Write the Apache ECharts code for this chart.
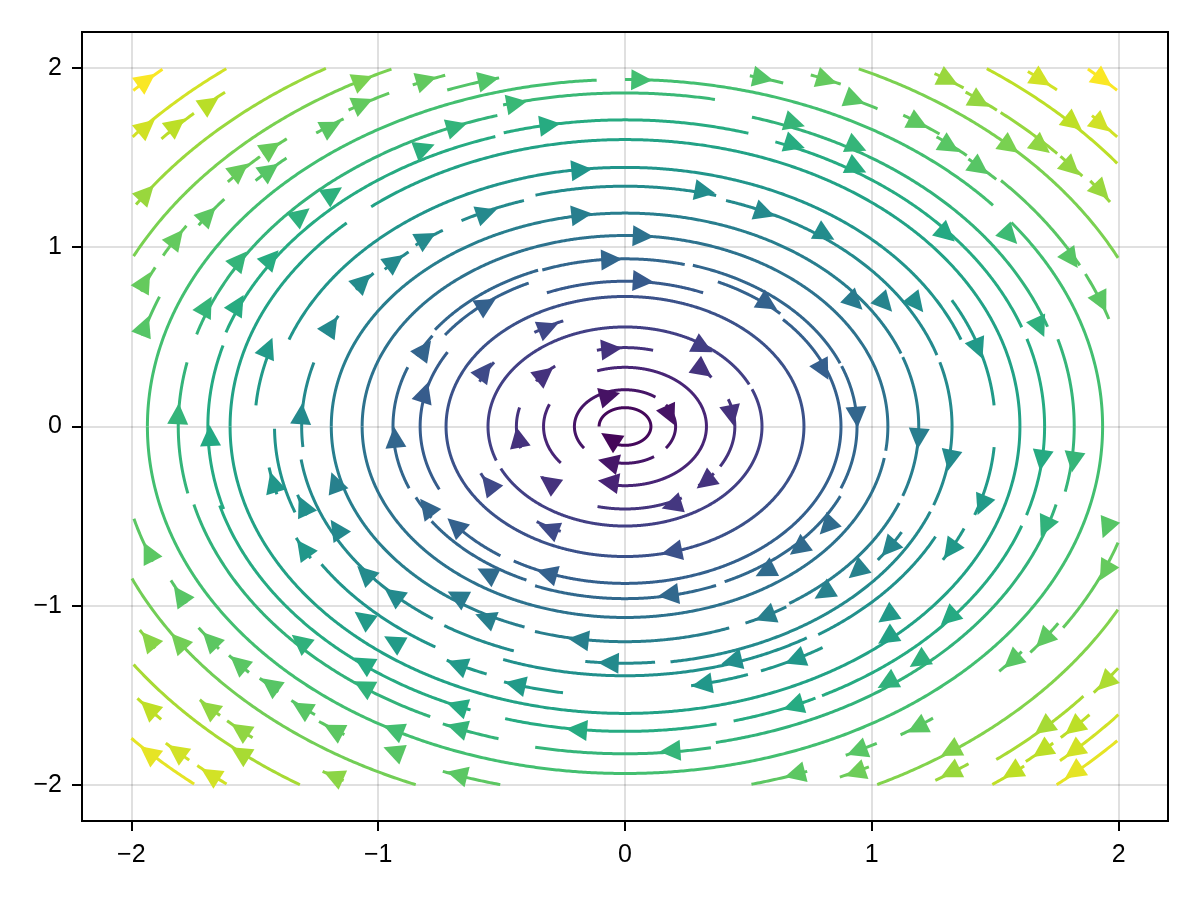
<!DOCTYPE html>
<html>
<head>
<meta charset="utf-8">
<script src="https://cdn.jsdelivr.net/npm/echarts@6/dist/echarts.min.js"></script>
<style>html,body{margin:0;padding:0;background:#fff}#c{width:1200px;height:900px}</style>
</head>
<body>
<div id="c"></div>
<script>
// Tick labels
const xTicks = [-2, -1, 0, 1, 2];
const yTicks = [-2, -1, 0, 1, 2];

// Streamline pieces: [radius, startAngleDeg, endAngleDeg] (flow is clockwise, start -> end)
const segInner = [
  [0.105,180,-125],
  [0.205,216,53],[0.205,36,-36],[0.205,-55,-112],
  [0.33,218,158],[0.33,110,-100],
  [0.44,228,220],[0.44,196,166],[0.44,145,130],[0.44,105,75],[0.445,50,38],[0.445,20,-30],[0.445,-36,-48],[0.46,-60,-104],
  [0.555,200,25],[0.555,22,-155],
  [0.64,125,113],[0.64,157,146],[0.64,214,204],[0.64,246,236],
  [0.725,180,-180],
  [0.89,145,116],[0.81,113,67],[0.89,65,45],[0.875,43,-121],[0.88,-125,-143],[0.83,205,150],
  [0.935,213,205],[0.94,201.5,159.4],[0.93,155,147],[0.94,145,112],[0.935,111,75],[0.94,73,22],[0.94,21,-21.5],
  [0.955,-24,-65],[0.96,-67.4,-112.3],[0.945,-115,-146],
  [1.065,180,-7.3],[1.065,-9.5,-180],
  [1.19,180,20],[1.19,19,-19],[1.19,-21,-56],[1.2,-57,-66],[1.2,-69.4,-107.7],[1.19,-110,-180],
  [1.266,-27.7,-36],
  [1.31,185,164.2],[1.315,157,152],[1.33,145,140],[1.31,138,132],[1.32,130,124],[1.325,120,108],[1.34,105.7,74],
  [1.325,72,17.5],[1.325,15.7,-19.3],[1.325,-21,-82],[1.32,-84.7,-97],[1.33,-109.8,-123.4],[1.325,-126,-172],
  [1.42,199.7,180.5],[1.445,160.4,19.6],[1.40,-26,-56],[1.47,-57,-68],[1.47,-70.2,-79.5],[1.39,-58,-110.8],
  [1.49,-112.1,-119],[1.506,-99.6,-109],[1.45,-122,-148],[1.46,195,189],[1.38,201,196],[1.47,210,205],
  [1.5,175.5,162.7],[1.5,28,4.5],[1.5,-4.4,-19.2],[1.487,-22.5,-30],
  [1.6,180,134.8],[1.6,130,-180],
  [1.69,195.8,164.5],[1.70,162,108],[1.71,106.7,73],[1.70,69,19],[1.70,16.7,-16.9],[1.70,-19,-62],[1.70,-63,-75],
  [1.70,-77.4,-106.6],[1.70,-111.6,-165],
  [1.81,191.9,168.6],[1.81,163.5,106.6],[1.86,105.4,78.7],[1.80,73.4,18],[1.82,15.5,-11.5],[1.80,-14,-78.2],
  [1.825,-79,-101.5],[1.815,-106.4,-114],[1.80,-116,-166],
  [1.935,180,93.4],[1.935,90,39.6],[1.935,36,-180]
];
const segTopLeft = [
  [2.735,140,133],[2.567,141.5,128.5],[2.47,139.5,135],[2.47,134,131],[2.336,148,121],[2.206,154.5,115.4],
  [2.1,153,147.8],[2.06,147,142],[2.11,139.7,134.5],[2.11,134,130.5],[2.03,137.5,132.5],[2.06,127.4,123.6],
  [2.09,122.4,117.2],[2.09,114.3,110.4],[2.01,111,104.7],[2.1,159,155],[2.02,165.5,159],[2.02,75.5,71.5],[2.1,69,65.4]
];
const segTopRight = [
  [2.737,47,43],[2.566,50.5,47],[2.566,42.5,39],[2.476,53.7,36.1],[2.334,57.5,54],[2.32,53.5,49.5],[2.32,49,41],
  [2.32,40.5,37],[2.33,36,32.5],[2.208,64.6,25.2],[2.07,57,52],[2.05,52,47.5],[2.04,47,42.5],[2.05,42,26],[2.05,24.5,17],
  [2.046,64,60]
];
const segBottomLeft = [
  [2.65,228.8,221],[2.565,231,227.5],[2.565,226.5,223.5],[2.49,221,217.5],[2.393,236.6,213.7],[2.30,224.5,221.5],
  [2.30,229,225.5],[2.17,247,203],[2.27,213,210],[2.06,217,213],[2.05,222,218.5],[2.04,226.5,223.5],[2.04,232,228.5],
  [2.06,236.5,233],[2.28,240,237.5],[2.03,209,205],[2.055,201.5,194.5],[2.06,255.8,249]
];
const segBottomRight = [
  [2.655,-41.3,-48.8],[2.565,-38.8,-46.6],[2.475,-40.5,-44.5],[2.475,-45.5,-49],[2.49,-49.5,-53.3],[2.39,-39,-51],
  [2.41,-34,-38],[2.243,-27.1,-62.9],[2.34,-53.5,-57.5],[2.1,-14,-32.3],[2.07,-32,-37.5],[2.04,-38,-42],
  [2.05,-52.5,-57],[2.04,-60,-64],[2.14,-62.5,-66],[2.06,-69,-75.6]
];

// Arrow heads: [x, y]
const arrowsTop = [
  [-1.938,1.932],[-1.938,1.673],[-1.817,1.682],[-1.681,1.803],[-1.061,1.932],[-1.061,1.803],[-0.804,1.932],[-1.189,1.673],
  [-1.432,1.552],[-1.56,1.431],[-1.438,1.431],[-1.938,1.302],[-0.811,1.552],[-1.182,1.302],[-1.688,1.181],[-1.817,1.051],
  [-1.311,1.181],[-0.804,1.051],[-1.56,0.931],[-1.432,0.94],[-0.932,0.922],[-1.061,0.81],[-1.945,0.81],
  [-0.553,1.932],[0.068,1.932],[0.56,1.942],[-0.438,1.803],[-0.681,1.673],[-0.304,1.682],[0.688,1.691],[0.688,1.571],
  [-0.175,1.431],[0.324,1.311],[-0.56,1.191],[-0.175,1.181],[0.567,1.191],[0.074,1.061],[-0.054,0.931],[0.074,0.81],
  [0.818,1.932],[0.932,1.821],[1.311,1.932],[1.688,1.932],[1.938,1.932],[1.438,1.812],[1.189,1.691],[1.817,1.691],
  [1.931,1.682],[0.939,1.561],[1.317,1.561],[1.56,1.561],[1.688,1.561],[0.939,1.441],[1.438,1.441],[1.81,1.441],
  [1.931,1.311],[0.811,1.07],[1.304,1.07],[1.56,1.061],[1.81,0.931]
];
const arrowsMiddle = [
  [-1.945,0.562],[-1.695,0.673],[-1.567,0.683],[-1.445,0.441],[-1.189,0.562],[-0.811,0.432],[-0.811,0.191],[-1.81,0.071],
  [-1.681,-0.05],[-1.311,0.071],[-0.932,-0.06],[-1.425,-0.31],[-1.304,-0.44],[-1.175,-0.31],[-0.804,-0.449],[-1.931,-0.699],
  [-1.304,-0.68],[-1.169,-0.569],
  [-0.56,0.683],[-0.31,0.552],[-0.567,0.312],[-0.324,0.293],[-0.054,0.432],[0.317,0.441],[0.317,0.312],[0.58,0.683],
  [-0.061,0.172],[0.182,0.061],[0.432,0.061],[-0.432,-0.06],[-0.061,-0.068],[-0.068,-0.199],[-0.068,-0.31],[-0.31,-0.31],
  [-0.553,-0.319],[0.324,-0.31],[0.189,-0.44],[-0.31,-0.569],[0.189,-0.699],[-0.688,-0.551],[0.702,-0.68],
  [0.932,0.692],[1.054,0.683],[1.182,0.683],[1.931,0.692],[1.681,0.552],[1.432,0.432],[0.804,0.312],[0.939,0.052],
  [1.189,-0.068],[1.317,-0.189],[1.688,-0.189],[1.817,-0.199],[1.445,-0.44],[0.818,-0.56],[1.702,-0.56],[1.951,-0.569],
  [1.068,-0.68],[1.317,-0.69]
];
const arrowsBottom = [
  [-1.803,-0.939],[-1.054,-0.818],[-0.939,-0.939],[-1.931,-1.189],[-1.81,-1.198],[-1.681,-1.189],[-1.317,-1.198],
  [-1.061,-1.068],[-0.939,-1.198],[-1.567,-1.318],[-1.438,-1.439],[-1.061,-1.318],[-1.061,-1.448],[-1.311,-1.569],
  [-1.931,-1.569],[-1.688,-1.569],[-1.56,-1.69],[-1.182,-1.69],[-0.939,-1.69],[-1.56,-1.819],[-1.931,-1.819],
  [-1.817,-1.81],[-1.681,-1.94],[-1.182,-1.949],[-0.939,-1.81],
  [-0.56,-0.818],[-0.317,-0.818],[0.175,-0.939],[-0.681,-0.947],[-0.567,-1.068],[-0.189,-1.189],[-0.068,-1.318],
  [0.567,-1.059],[0.432,-1.309],[0.688,-1.3],[-0.681,-1.328],[-0.445,-1.439],[0.311,-1.439],[-0.681,-1.559],
  [0.681,-1.559],[-0.681,-1.68],[-0.196,-1.69],[0.182,-1.81],[-0.681,-1.94],[0.688,-1.94],[0.567,-0.808],
  [0.939,-0.808],[0.804,-0.929],[1.945,-0.808],[1.061,-1.059],[1.311,-1.068],[1.061,-1.179],[1.695,-1.189],
  [1.189,-1.309],[1.567,-1.309],[1.061,-1.43],[1.945,-1.43],[1.182,-1.68],[1.695,-1.68],[1.817,-1.68],
  [0.939,-1.81],[1.317,-1.81],[1.688,-1.81],[1.817,-1.81],[0.932,-1.93],[1.317,-1.93],[1.567,-1.93],[1.817,-1.93]
];

const viridis = ['#440154','#482475','#414487','#355f8d','#2a788e','#21918c','#22a884','#44bf70','#7ad151','#bddf26','#fde725'];
const speedMin = 0.05, speedMax = 2.75;
const axisLim = 2.2;   // axis range
const fieldLim = 2.0;  // streamlines live inside [-2, 2]

const segData = [].concat(segInner, segTopLeft, segTopRight, segBottomLeft, segBottomRight);
const arrowData = [].concat(arrowsTop, arrowsMiddle, arrowsBottom).map(p => [p[0], p[1], Math.hypot(p[0], p[1])]);

function renderArc(params, api) {
  const r = api.value(0), a0 = api.value(1), a1 = api.value(2);
  const n = Math.max(2, Math.ceil(Math.abs(a0 - a1) / 0.25));
  const runs = [];
  let cur = null;
  for (let i = 0; i <= n; i++) {
    const a = (a0 + (a1 - a0) * i / n) * Math.PI / 180;
    const x = r * Math.cos(a), y = r * Math.sin(a);
    if (Math.abs(x) <= fieldLim && Math.abs(y) <= fieldLim) {
      if (!cur) { cur = []; runs.push(cur); }
      cur.push(api.coord([x, y]));
    } else cur = null;
  }
  const color = api.visual('color');
  return {
    type: 'group',
    children: runs.filter(p => p.length > 1).map(pts => ({
      type: 'polyline', shape: { points: pts },
      style: { stroke: color, lineWidth: 3, fill: null }
    }))
  };
}

function renderArrow(params, api) {
  const x = api.value(0), y = api.value(1);
  const p = api.coord([x, y]);
  const q = api.coord([x + y * 0.01, y - x * 0.01]);
  let dx = q[0] - p[0], dy = q[1] - p[1];
  const L = Math.hypot(dx, dy) || 1; dx /= L; dy /= L;
  const h = 10.5, w = 10.5;
  const tip = [p[0] + dx * h, p[1] + dy * h];
  const b = [p[0] - dx * h, p[1] - dy * h];
  const nx = -dy, ny = dx;
  return {
    type: 'polygon',
    shape: { points: [tip, [b[0] + nx * w, b[1] + ny * w], [b[0] - nx * w, b[1] - ny * w]] },
    style: { fill: api.visual('color'), stroke: null }
  };
}

const fmt = v => (v < 0 ? '\u2212' + Math.abs(v) : String(v));
const tickStyle = { show: true, inside: false, length: 10, lineStyle: { color: '#000', width: 2 } };
const labelStyle = { color: '#000', fontSize: 25, fontFamily: 'Liberation Sans, Arial, sans-serif', formatter: fmt };
const splitStyle = { show: true, lineStyle: { color: 'rgba(0,0,0,0.12)', width: 2 } };

const chart = echarts.init(document.getElementById('c'), null, { renderer: 'canvas' });
chart.setOption({
  animation: false,
  backgroundColor: '#fff',
  grid: { left: 82, right: 32, top: 32, bottom: 79, show: true, borderColor: '#000', borderWidth: 2, backgroundColor: 'transparent' },
  xAxis: {
    type: 'value', min: -axisLim, max: axisLim, position: 'bottom',
    axisLine: { show: false, onZero: false },
    axisTick: Object.assign({}, tickStyle, { customValues: xTicks }),
    axisLabel: Object.assign({}, labelStyle, { customValues: xTicks, margin: 22 }),
    splitLine: splitStyle
  },
  yAxis: {
    type: 'value', min: -axisLim, max: axisLim, position: 'left',
    axisLine: { show: false, onZero: false },
    axisTick: Object.assign({}, tickStyle, { customValues: yTicks }),
    axisLabel: Object.assign({}, labelStyle, { customValues: yTicks, margin: 20 }),
    splitLine: splitStyle
  },
  visualMap: [
    { type: 'continuous', show: false, seriesIndex: 0, dimension: 0, min: speedMin, max: speedMax, inRange: { color: viridis } },
    { type: 'continuous', show: false, seriesIndex: 1, dimension: 2, min: speedMin, max: speedMax, inRange: { color: viridis } }
  ],
  series: [
    { type: 'custom', renderItem: renderArc, data: segData, z: 2, silent: true },
    { type: 'custom', renderItem: renderArrow, data: arrowData, encode: { x: 0, y: 1 }, z: 3, silent: true }
  ]
});
</script>
</body>
</html>
